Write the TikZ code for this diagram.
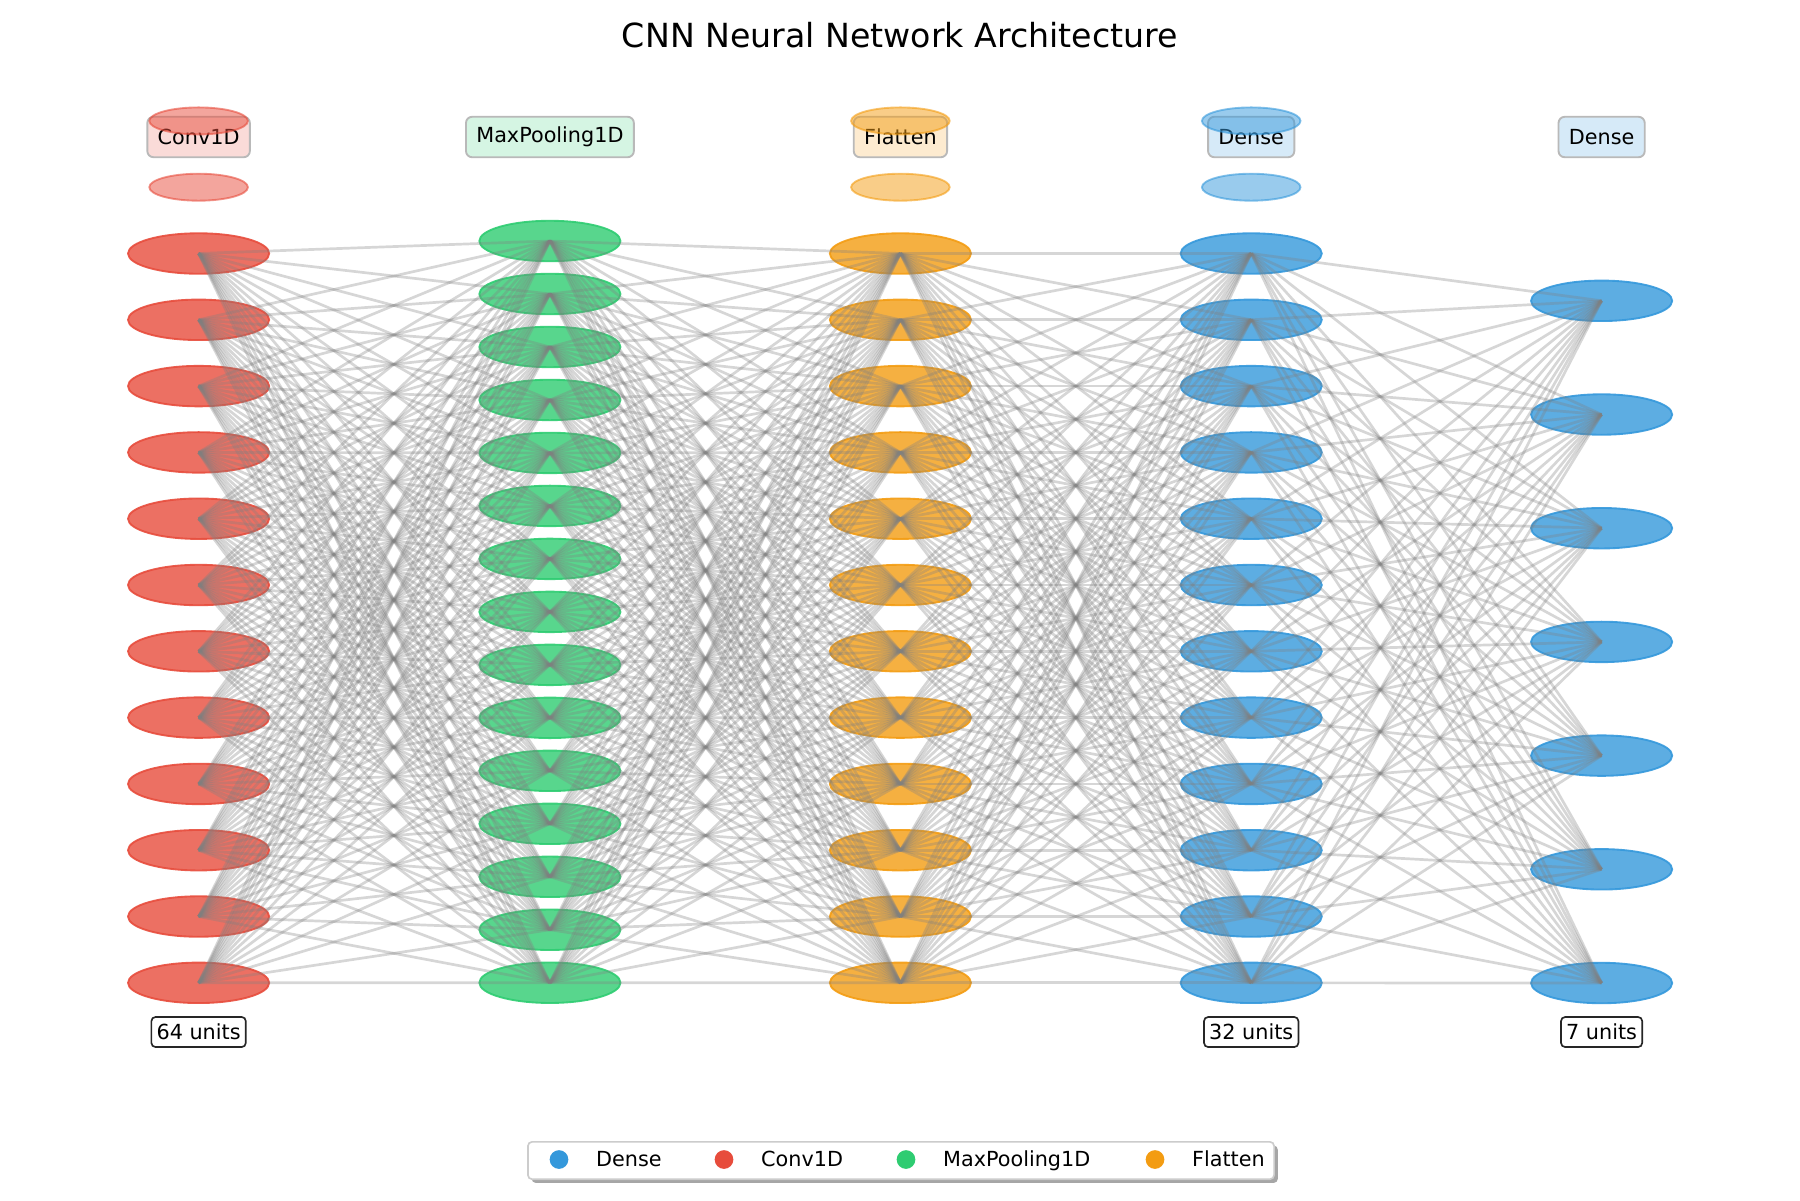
\documentclass[tikz,border=0pt]{standalone}
\usepackage{fontspec}
\setmainfont{DejaVu Sans}
\usetikzlibrary{shapes.geometric,shadows,backgrounds,positioning}
\definecolor{convred}{HTML}{E74C3C}
\definecolor{poolgreen}{HTML}{2ECC71}
\definecolor{flatorange}{HTML}{F39C12}
\definecolor{denseblue}{HTML}{3498DB}
\tikzset{unit/.style={ellipse,minimum width=68pt,minimum height=19.5pt,inner sep=0pt,
line width=0.9pt,fill opacity=0.8,draw opacity=0.9},
conv/.style={unit,fill=convred,draw=convred},
pool/.style={unit,fill=poolgreen,draw=poolgreen},
flat/.style={unit,fill=flatorange,draw=flatorange},
dense/.style={unit,fill=denseblue,draw=denseblue},
ghost/.style={unit,minimum width=47.5pt,minimum height=13pt,fill opacity=0.5,draw opacity=0.6},
link/.style={draw=gray,opacity=0.32,line width=1.3pt},
layerlab/.style={rectangle,rounded corners=3pt,draw=gray!55,line width=0.9pt,inner xsep=5pt,
minimum height=19.5pt,font=\fontsize{10}{12}\selectfont},
count/.style={rectangle,rounded corners=2pt,draw=black!85,fill=white,line width=0.8pt,inner xsep=2.5pt,
minimum height=14.5pt,font=\fontsize{10}{12}\selectfont},
legdot/.style={circle,minimum size=9pt,inner sep=0pt},
legtext/.style={inner sep=0pt,text height=8.6pt,text depth=1.5pt,right=13pt of #1,
font=\fontsize{10}{12}\selectfont}}
\newcommand{\layerlabel}[4]{
\node (#1) [layerlab,fill=#3!20] at (#2,137) {#4};
}

\begin{document}
\begin{tikzpicture}[x=0.4818pt,y=-0.4818pt]
  \useasboundingbox (0,0) rectangle (1800,1200);
  \node (title) [font=\fontsize{16}{18}\selectfont] at (900,35.6) {CNN Neural Network Architecture};

  % layer captions sit under the faded ellipses
  \begin{pgfonlayer}{background}
    \layerlabel{convlab}{198.6}{convred}{Conv1D}
    \layerlabel{poollab}{549.9}{poolgreen}{MaxPooling1D}
    \layerlabel{flatlab}{900.4}{flatorange}{Flatten}
    \layerlabel{denselab}{1251.2}{denseblue}{Dense}
    \layerlabel{outlab}{1601.6}{denseblue}{Dense}
  \end{pgfonlayer}

  \foreach \k/\y in {1/120.9,2/187.2} {
    \node (convg\k) [ghost,fill=convred,draw=convred] at (198.6,\y) {};
    \node (flatg\k) [ghost,fill=flatorange,draw=flatorange] at (900.4,\y) {};
    \node (denseg\k) [ghost,fill=denseblue,draw=denseblue] at (1251.2,\y) {};
  }

  \foreach \i in {1,...,12} {
    \node (conv\i) [conv] at (198.6,{253.5+(\i-1)*66.3}) {};
    \node (flat\i) [flat] at (900.4,{253.5+(\i-1)*66.3}) {};
    \node (dense\i) [dense] at (1251.2,{253.5+(\i-1)*66.3}) {};
  }
  \foreach \i in {1,...,15}
    \node (pool\i) [pool] at (549.9,{241+(\i-1)*52.98}) {};
  \foreach \i in {1,...,7}
    \node (out\i) [dense] at (1601.6,{300.8+(\i-1)*113.7}) {};

  \foreach \i in {1,...,12} {
    \foreach \j in {1,...,15} {
      \draw [link] (conv\i.center) -- (pool\j.center);
      \draw [link] (pool\j.center) -- (flat\i.center);
    }
    \foreach \j in {1,...,12}
      \draw [link] (flat\i.center) -- (dense\j.center);
    \foreach \j in {1,...,7}
      \draw [link] (dense\i.center) -- (out\j.center);
  }

  \node (convcount) [count] at (198.6,1032) {64 units};
  \node (densecount) [count] at (1251.2,1032) {32 units};
  \node (outcount) [count] at (1601.6,1032) {7 units};

  % legend
  \node (legend) [rectangle,rounded corners=2pt,draw=gray!40,line width=0.8pt,fill=white,
    minimum width=359.5pt,minimum height=18pt,
    drop shadow={shadow xshift=1.8pt,shadow yshift=-1.8pt,fill=gray!70,opacity=1}] at (901,1160.5) {};
  \node (legdense) [legdot,fill=denseblue] at (559,1159.5) {};
  \node (legconv) [legdot,fill=convred] at (724,1159.5) {};
  \node (legpool) [legdot,fill=poolgreen] at (906,1159.5) {};
  \node (legflat) [legdot,fill=flatorange] at (1155,1159.5) {};
  \node (legdensetxt) [legtext=legdense] {Dense};
  \node (legconvtxt) [legtext=legconv] {Conv1D};
  \node (legpooltxt) [legtext=legpool] {MaxPooling1D};
  \node (legflattxt) [legtext=legflat] {Flatten};
\end{tikzpicture}
\end{document}
